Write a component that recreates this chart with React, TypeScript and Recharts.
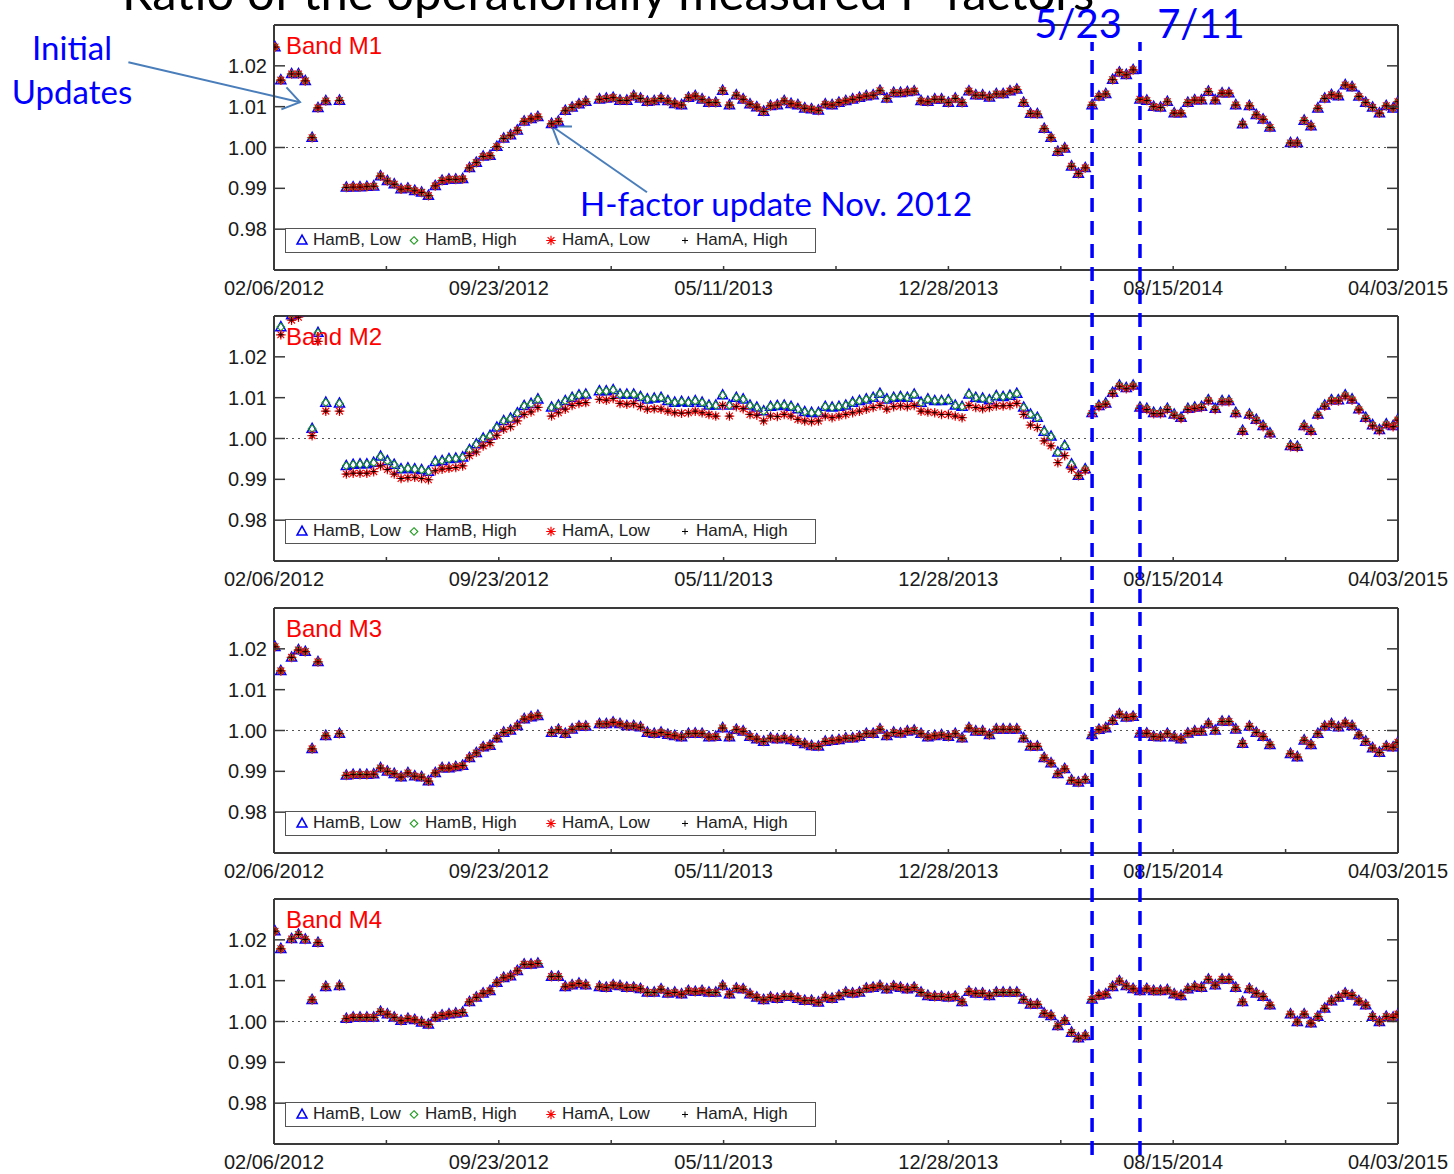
import React from 'react';
import { ScatterChart, Scatter, XAxis, YAxis, ReferenceLine } from 'recharts';

// measurement dates, in days after 02/06/2012
const days = [
  1, 7, 18, 25, 32, 39, 45, 53, 67,
  74, 81, 88, 95, 102, 109, 116, 123, 130, 137,
  144, 151, 158, 165, 172, 179, 186, 193, 200, 207,
  214, 221, 228, 235, 242, 249, 256, 263, 270, 277,
  284, 291, 298, 305, 312, 319, 326, 333, 340, 347,
  354, 361, 368, 375, 382, 389, 396, 403, 410, 417,
  424, 431, 438, 445, 452, 459, 466, 473, 480, 487,
  494, 501, 508, 515, 522, 529, 536, 543, 550, 557,
  564, 571, 578, 585, 592, 599, 606, 613, 620, 627,
  634, 641, 648, 655, 662, 669, 676, 683, 690, 697,
  704, 711, 718, 725, 732, 739, 746, 753, 760, 767,
  774, 781, 788, 795, 802, 809, 816, 823, 830, 837,
  844, 851, 858, 865, 872, 879, 886, 893, 900, 907,
  914, 921, 928, 935, 942, 949, 956, 963, 970, 977,
  984, 991, 998, 1005, 1012, 1019, 1026, 1033, 1040, 1047,
  1054, 1061, 1068, 1075, 1082, 1089, 1096, 1103, 1110, 1117,
  1124, 1131, 1138, 1145, 1150,
];

const m1 = [
  1.0246, 1.0165, 1.018, 1.018, 1.0163, 1.0024, 1.0097, 1.0114, 1.0115,
  0.9902, 0.9903, 0.9903, 0.9904, 0.9905, 0.993, 0.9918, 0.991, 0.9898, 0.99,
  0.9894, 0.989, 0.9882, 0.9906, 0.9919, 0.9922, 0.9922, 0.9923, 0.995, 0.9963,
  0.9978, 0.998, 1.0002, 1.0022, 1.003, 1.0042, 1.0064, 1.007, 1.0075, null,
  1.0058, 1.0064, 1.009, 1.0098, 1.0106, 1.0112, null, 1.0118, 1.012, 1.0122,
  1.0115, 1.0115, 1.0126, 1.012, 1.0112, 1.0114, 1.012, 1.0114, 1.0107, 1.0104,
  1.0122, 1.0126, 1.0118, 1.011, 1.011, 1.0139, 1.0104, 1.0128, 1.0118, 1.0106,
  1.0099, 1.0088, 1.0102, 1.0104, 1.0114, 1.0107, 1.0104, 1.0096, 1.0094, 1.0091,
  1.0106, 1.0104, 1.011, 1.0114, 1.0118, 1.0122, 1.0126, 1.0128, 1.0139, 1.012,
  1.0134, 1.0134, 1.0136, 1.0138, 1.0114, 1.0112, 1.0118, 1.0118, 1.011, 1.012,
  1.011, 1.0138, 1.0128, 1.0128, 1.0123, 1.0131, 1.0131, 1.0138, 1.0142, 1.011,
  1.0083, 1.0082, 1.0046, 1.0024, 0.999, 0.9998, 0.9954, 0.9936, 0.995, 1.0104,
  1.0125, 1.0131, 1.0166, 1.0184, 1.0178, 1.019, 1.0118, 1.0115, 1.01, 1.0098,
  1.0112, 1.0084, 1.0084, 1.011, 1.0116, 1.0116, 1.0137, 1.0116, 1.0133, 1.0133,
  1.0104, 1.0057, 1.0102, 1.008, 1.0069, 1.0049, null, null, 1.0011, 1.0011,
  1.0066, 1.0052, 1.0096, 1.012, 1.0129, 1.0126, 1.0153, 1.0148, 1.0125, 1.011,
  1.0098, 1.0084, 1.0102, 1.0096, 1.0112,
];

const m2HamB = [
  null, 1.0273, 1.0302, 1.031, null, 1.0024, 1.0259, 1.0088, 1.0086,
  0.9933, 0.9936, 0.9937, 0.9937, 0.9941, 0.9956, 0.9945, 0.9936, 0.9925, 0.9927,
  0.9925, 0.9923, 0.9919, 0.9943, 0.9945, 0.995, 0.9951, 0.9954, 0.9972, 0.9986,
  1.0, 1.0007, 1.0027, 1.0043, 1.0049, 1.0062, 1.008, 1.0085, 1.0096, null,
  1.0076, 1.0081, 1.0092, 1.01, 1.0106, 1.0108, null, 1.0116, 1.0116, 1.0119,
  1.0108, 1.0108, 1.0108, 1.0102, 1.0096, 1.0098, 1.01, 1.0092, 1.0088, 1.009,
  1.0088, 1.0092, 1.0088, 1.0081, 1.0081, 1.0106, 1.0081, 1.01, 1.0096, 1.0081,
  1.0076, 1.0067, 1.0078, 1.008, 1.0081, 1.0078, 1.0072, 1.0065, 1.0063, 1.0063,
  1.0078, 1.0076, 1.0078, 1.0081, 1.0088, 1.0092, 1.0096, 1.01, 1.011, 1.0096,
  1.01, 1.0102, 1.01, 1.0108, 1.0088, 1.0096, 1.0092, 1.0092, 1.0094, 1.0081,
  1.0078, 1.0108, 1.01, 1.0098, 1.0094, 1.0104, 1.0102, 1.0105, 1.011, 1.0076,
  1.0059, 1.0051, 1.0017, 1.0005, 0.9966, 0.9982, 0.9937, 0.9909, 0.9925, 1.0063,
  1.008, 1.0086, 1.0112, 1.013, 1.0124, 1.013, 1.0076, 1.0073, 1.0063, 1.0063,
  1.0073, 1.0059, 1.0051, 1.0073, 1.0076, 1.0078, 1.0094, 1.0073, 1.0092, 1.0092,
  1.0063, 1.0019, 1.0059, 1.0046, 1.0031, 1.0013, null, null, 0.9982, 0.998,
  1.0031, 1.0019, 1.0059, 1.0081, 1.0094, 1.0094, 1.0106, 1.0096, 1.0072, 1.0051,
  1.0033, 1.0021, 1.0035, 1.0031, 1.0047,
];

const m2HamA = [
  null, 1.0254, 1.029, 1.0297, null, 1.0007, 1.0238, 1.0067, 1.0067,
  0.9913, 0.9915, 0.9915, 0.9915, 0.9919, 0.9933, 0.9924, 0.9913, 0.9902, 0.9904,
  0.9905, 0.9902, 0.9899, 0.9921, 0.9925, 0.9927, 0.9929, 0.9933, 0.9958, 0.9967,
  0.9982, 0.999, 1.0008, 1.0023, 1.0029, 1.0043, 1.0059, 1.0065, 1.0076, null,
  1.0055, 1.0063, 1.0072, 1.0081, 1.0086, 1.0088, null, 1.0096, 1.0094, 1.0098,
  1.0086, 1.0084, 1.0086, 1.0078, 1.0072, 1.0073, 1.0072, 1.0067, 1.0063, 1.0062,
  1.0063, 1.0067, 1.0063, 1.0059, 1.0055, 1.0081, 1.0055, 1.0078, 1.0073, 1.0059,
  1.0057, 1.0043, 1.0055, 1.0054, 1.0059, 1.0055, 1.0047, 1.0043, 1.0041, 1.0043,
  1.0055, 1.0051, 1.0055, 1.0059, 1.0063, 1.0067, 1.0072, 1.0076, 1.0081, 1.0072,
  1.0078, 1.008, 1.0078, 1.0081, 1.0067, 1.0065, 1.0063, 1.0059, 1.0059, 1.0055,
  1.0051, 1.0081, 1.0076, 1.0073, 1.0076, 1.008, 1.008, 1.0081, 1.0086, 1.0059,
  1.0033, 1.0027, 0.9994, 0.9982, 0.9941, 0.9958, 0.9925, 0.9909, 0.9922, 1.0061,
  1.0078, 1.0084, 1.011, 1.0128, 1.0122, 1.0128, 1.0074, 1.0071, 1.0061, 1.0061,
  1.0071, 1.0057, 1.0049, 1.0071, 1.0074, 1.0076, 1.0092, 1.0071, 1.009, 1.009,
  1.0061, 1.0017, 1.0057, 1.0044, 1.0029, 1.0011, null, null, 0.998, 0.9978,
  1.0029, 1.0017, 1.0057, 1.0079, 1.0092, 1.0092, 1.0104, 1.0094, 1.007, 1.0049,
  1.0031, 1.0019, 1.0033, 1.0029, 1.0045,
];

const m3 = [
  1.0205, 1.0146, 1.0179, 1.0197, 1.0193, 0.9955, 1.0168, 0.9987, 0.9992,
  0.989, 0.9892, 0.9892, 0.9892, 0.9893, 0.9908, 0.99, 0.9894, 0.9886, 0.9896,
  0.9888, 0.9886, 0.9876, 0.9896, 0.9908, 0.9908, 0.9911, 0.9914, 0.9933, 0.9945,
  0.9959, 0.9963, 0.9981, 0.9995, 1.0, 1.0011, 1.0028, 1.0033, 1.0036, null,
  0.9995, 1.0002, 0.9992, 1.0003, 1.001, 1.001, null, 1.0016, 1.0016, 1.002,
  1.0016, 1.0011, 1.0011, 1.0008, 0.9995, 0.9992, 0.9995, 0.999, 0.9987, 0.9984,
  0.9992, 0.9993, 0.9992, 0.9984, 0.9985, 1.0006, 0.9984, 1.0002, 0.9998, 0.9985,
  0.9979, 0.9973, 0.9981, 0.9979, 0.9981, 0.9977, 0.9973, 0.9967, 0.9962, 0.9961,
  0.9973, 0.9975, 0.9977, 0.9981, 0.9981, 0.9985, 0.9992, 0.9992, 1.0003, 0.9987,
  0.9995, 0.9993, 0.9998, 1.0, 0.9992, 0.9984, 0.9987, 0.9989, 0.9985, 0.9992,
  0.9981, 1.0006, 0.9998, 0.9998, 0.9989, 1.0003, 1.0003, 1.0003, 1.0003, 0.9981,
  0.9961, 0.9961, 0.9933, 0.992, 0.9894, 0.9906, 0.9878, 0.9873, 0.988, 0.9989,
  1.0002, 1.0006, 1.0024, 1.004, 1.0032, 1.0034, 0.9993, 0.9993, 0.9985, 0.9984,
  0.9992, 0.9984, 0.9979, 0.9993, 0.9998, 0.9998, 1.0016, 1.0, 1.0022, 1.0022,
  1.0003, 0.9968, 1.001, 0.9995, 0.9985, 0.9965, null, null, 0.9943, 0.9935,
  0.9976, 0.9965, 0.9992, 1.001, 1.0016, 1.0008, 1.0018, 1.0011, 0.9989, 0.9973,
  0.9957, 0.9946, 0.9961, 0.9959, 0.9971,
];

const m4 = [
  1.0221, 1.0178, 1.0202, 1.0213, 1.0201, 1.0053, 1.0193, 1.0085, 1.0087,
  1.0007, 1.001, 1.001, 1.001, 1.001, 1.0024, 1.0018, 1.001, 1.0002, 1.0007,
  1.0004, 0.9998, 0.9993, 1.001, 1.0015, 1.0018, 1.002, 1.0022, 1.0048, 1.0059,
  1.0069, 1.0075, 1.0095, 1.0107, 1.0111, 1.0124, 1.014, 1.014, 1.0142, null,
  1.011, 1.011, 1.0085, 1.0089, 1.0093, 1.0089, null, 1.0085, 1.0083, 1.0089,
  1.0087, 1.0083, 1.0083, 1.008, 1.0071, 1.0071, 1.0079, 1.0069, 1.0071, 1.0067,
  1.0075, 1.0073, 1.0075, 1.0071, 1.0071, 1.0087, 1.0067, 1.0081, 1.0079, 1.0067,
  1.0059, 1.0053, 1.0059, 1.0056, 1.0061, 1.0061, 1.0056, 1.0051, 1.0051, 1.0047,
  1.0059, 1.0056, 1.0063, 1.0071, 1.0069, 1.0071, 1.0081, 1.0083, 1.0087, 1.0079,
  1.0086, 1.0083, 1.0079, 1.0083, 1.0071, 1.0063, 1.0061, 1.0061, 1.0059, 1.0061,
  1.0048, 1.0073, 1.0069, 1.0069, 1.0063, 1.0071, 1.0071, 1.0071, 1.0071, 1.0054,
  1.0042, 1.0042, 1.002, 1.0014, 0.9989, 1.0002, 0.9973, 0.9959, 0.9965, 1.0054,
  1.0064, 1.0067, 1.0085, 1.0099, 1.0087, 1.008, 1.0075, 1.008, 1.0075, 1.0075,
  1.0077, 1.0067, 1.0063, 1.0079, 1.0085, 1.0083, 1.0103, 1.0089, 1.0103, 1.0103,
  1.0083, 1.0048, 1.008, 1.0069, 1.0061, 1.004, null, null, 1.0018, 0.9999,
  1.0018, 0.9996, 1.0012, 1.0032, 1.005, 1.0059, 1.0069, 1.0064, 1.005, 1.004,
  1.0012, 0.9999, 1.0012, 1.001, 1.0018,
];

const bandNames = ['Band M1', 'Band M2', 'Band M3', 'Band M4'];
const hamB = [m1, m2HamB, m3, m4];
const hamA = [m1, m2HamA, m3, m4];
const seriesNames = ['HamB, Low', 'HamB, High', 'HamA, Low', 'HamA, High'];

const xTicks = [0, 115, 230, 345, 460, 575, 690, 805, 920, 1035, 1150];
const dateTicks = [0, 230, 460, 690, 920, 1150];
const dateLabels = ['02/06/2012', '09/23/2012', '05/11/2013', '12/28/2013', '08/15/2014', '04/03/2015'];
const yTicks = [0.98, 0.99, 1.0, 1.01, 1.02];

// dates of the two update events (5/23/2014, 7/11/2014)
const updateDays = [837, 886];
const updateLabels = ['5/23', '7/11'];

// arrow annotations on the first panel: [tail, head] in (day, ratio)
const initialArrow = [{ x: -149, y: 1.0209 }, { x: 26.6, y: 1.0111 }];
const hFactorArrow = [{ x: 381.6, y: 0.98904 }, { x: 284.4, y: 1.0052 }];

const W = 1454;
const H = 1174;
const PANEL_H = 300;
const plotTops = [25, 316, 608, 899];
const AXIS_FONT = '"Liberation Sans", Arial, Helvetica, sans-serif';
const NOTE_FONT = 'Lato, "Open Sans", sans-serif';
const FRAME = { stroke: '#3a3a3a', strokeWidth: 2 };

const toPoints = (vals: (number | null)[]) =>
  days.map((d, i) => ({ x: d, y: vals[i] })).filter((p) => p.y !== null);

const Tri = ({ cx, cy }: any) => (
  <polygon
    points={`${cx},${cy - 5.4} ${cx - 5},${cy + 3.6} ${cx + 5},${cy + 3.6}`}
    fill="none"
    stroke="#0000ff"
    strokeWidth={1.5}
  />
);
const Dia = ({ cx, cy }: any) => (
  <polygon
    points={`${cx},${cy - 3.8} ${cx + 3.8},${cy} ${cx},${cy + 3.8} ${cx - 3.8},${cy}`}
    fill="none"
    stroke="#1f9a1f"
    strokeWidth={1.1}
  />
);
const Star = ({ cx, cy }: any) => (
  <path
    d={`M${cx - 4.8},${cy}h9.6M${cx},${cy - 4.8}v9.6M${cx - 3.4},${cy - 3.4}l6.8,6.8M${cx - 3.4},${cy + 3.4}l6.8,-6.8`}
    stroke="#ff0000"
    strokeWidth={1.2}
  />
);
const Plus = ({ cx, cy }: any) => (
  <path d={`M${cx - 3},${cy}h6M${cx},${cy - 3}v6`} stroke="#000" strokeWidth={1} />
);
const markers = [Tri, Dia, Star, Plus];

const BottomTick = ({ x, y, payload }: any) => {
  const i = dateTicks.indexOf(payload.value);
  return (
    <g>
      <line x1={x} y1={y} x2={x} y2={y - 4} stroke="#3a3a3a" strokeWidth={1.5} />
      {i >= 0 && (
        <text x={x} y={y + 25} textAnchor="middle" fontFamily={AXIS_FONT} fontSize={20} fill="#1a1a1a">
          {dateLabels[i]}
        </text>
      )}
    </g>
  );
};
const TopTick = ({ x, y }: any) => <line x1={x} y1={y} x2={x} y2={y + 4} stroke="#3a3a3a" strokeWidth={1.5} />;
const LeftTick = ({ x, y, payload }: any) => (
  <g>
    <line x1={x} y1={y} x2={x + 11} y2={y} stroke="#3a3a3a" strokeWidth={1.5} />
    <text x={x - 7} y={y + 7} textAnchor="end" fontFamily={AXIS_FONT} fontSize={20} fill="#1a1a1a">
      {payload.value.toFixed(2)}
    </text>
  </g>
);
const RightTick = ({ x, y }: any) => <line x1={x} y1={y} x2={x - 11} y2={y} stroke="#3a3a3a" strokeWidth={1.5} />;

// open-headed arrow used for the annotations
const Arrow = ({ x1, y1, x2, y2 }: any) => {
  const ang = Math.atan2(y2 - y1, x2 - x1);
  const len = 20;
  const a = 0.6;
  const p1 = `${x2 - len * Math.cos(ang - a)},${y2 - len * Math.sin(ang - a)}`;
  const p2 = `${x2 - len * Math.cos(ang + a)},${y2 - len * Math.sin(ang + a)}`;
  return (
    <g stroke="#4a7ebb" strokeWidth={2} fill="none">
      <line x1={x1} y1={y1} x2={x2} y2={y2} />
      <polyline points={`${p1} ${x2},${y2} ${p2}`} />
    </g>
  );
};

const legendX = [10, 122, 259, 393];

function LegendBox({ plotTop }: { plotTop: number }) {
  return (
    <div
      style={{
        position: 'absolute',
        left: 285,
        top: plotTop + 203,
        width: 531,
        height: 25,
        boxSizing: 'border-box',
        border: '1.5px solid #555',
        background: '#fff',
        fontFamily: AXIS_FONT,
        fontSize: 17,
        color: '#222',
      }}
    >
      {seriesNames.map((name, i) => {
        const M = markers[i];
        return (
          <div
            key={name}
            style={{ position: 'absolute', left: legendX[i], top: 0, height: 22, display: 'flex', alignItems: 'center' }}
          >
            <svg width={12} height={12} style={{ overflow: 'visible' }}>
              <M cx={6} cy={6.5} />
            </svg>
            <span style={{ marginLeft: 5, whiteSpace: 'nowrap' }}>{name}</span>
          </div>
        );
      })}
    </div>
  );
}

function Panel({ index }: { index: number }) {
  const plotTop = plotTops[index];
  const b = toPoints(hamB[index]);
  const a = toPoints(hamA[index]);
  const seriesData = [b, b, a, a];
  return (
    <>
      <div style={{ position: 'absolute', left: 0, top: plotTop - 25, width: W, height: PANEL_H }}>
        <ScatterChart width={W} height={PANEL_H} margin={{ top: 15, right: 26, bottom: 0, left: 214 }}>
          <XAxis
            xAxisId="b"
            type="number"
            dataKey="x"
            domain={[0, 1150]}
            allowDataOverflow
            ticks={xTicks}
            interval={0}
            height={30}
            tickSize={0}
            tickMargin={0}
            axisLine={FRAME}
            tick={BottomTick}
          />
          <XAxis
            xAxisId="t"
            orientation="top"
            type="number"
            domain={[0, 1150]}
            allowDataOverflow
            ticks={xTicks}
            interval={0}
            height={10}
            tickSize={0}
            tickMargin={0}
            axisLine={FRAME}
            tick={TopTick}
          />
          <YAxis
            yAxisId="l"
            type="number"
            dataKey="y"
            domain={[0.97, 1.03]}
            allowDataOverflow
            ticks={yTicks}
            interval={0}
            width={60}
            tickSize={0}
            tickMargin={0}
            axisLine={FRAME}
            tick={LeftTick}
          />
          <YAxis
            yAxisId="r"
            orientation="right"
            type="number"
            domain={[0.97, 1.03]}
            allowDataOverflow
            ticks={yTicks}
            interval={0}
            width={30}
            tickSize={0}
            tickMargin={0}
            axisLine={FRAME}
            tick={RightTick}
          />
          <ReferenceLine xAxisId="b" yAxisId="l" y={1} stroke="#555" strokeWidth={1} strokeDasharray="2 4" />
          {seriesNames.map((name, i) => {
            const M = markers[i];
            return (
              <Scatter
                key={name}
                name={name}
                xAxisId="b"
                yAxisId="l"
                data={seriesData[i]}
                shape={(p: any) => <M cx={p.cx} cy={p.cy} />}
                isAnimationActive={false}
              />
            );
          })}
          {index === 0 && (
            <ReferenceLine
              xAxisId="b"
              yAxisId="l"
              segment={initialArrow}
              ifOverflow="visible"
              shape={(p: any) => <Arrow {...p} />}
            />
          )}
          {index === 0 && (
            <ReferenceLine
              xAxisId="b"
              yAxisId="l"
              segment={hFactorArrow}
              ifOverflow="visible"
              shape={(p: any) => <Arrow {...p} />}
            />
          )}
        </ScatterChart>
      </div>
      <LegendBox plotTop={plotTop} />
    </>
  );
}

// the two update dates, drawn as dashed lines through all four panels
function UpdateLines() {
  const shift = [-14, 61];
  const events = updateDays.map((d) => ({ x: d, y: 0.5 }));
  return (
    <div style={{ position: 'absolute', left: 0, top: 0, width: W, height: H, pointerEvents: 'none' }}>
      <ScatterChart width={W} height={H} margin={{ top: 42, right: 56, bottom: 19, left: 274 }}>
        <XAxis type="number" dataKey="x" domain={[0, 1150]} allowDataOverflow hide />
        <YAxis type="number" dataKey="y" domain={[0, 1]} allowDataOverflow hide />
        <Scatter data={events} shape={() => <g />} isAnimationActive={false} />
        {updateDays.map((d, i) => (
          <ReferenceLine
            key={d}
            x={d}
            stroke="#0000ff"
            strokeWidth={3.5}
            strokeDasharray="14 9"
            label={{
              content: (p: any) => (
                <text
                  x={p.viewBox.x + shift[i]}
                  y={p.viewBox.y - 4}
                  textAnchor="middle"
                  fontFamily={NOTE_FONT}
                  fontSize={40}
                  fill="#0000ff"
                >
                  {updateLabels[i]}
                </text>
              ),
            }}
          />
        ))}
      </ScatterChart>
    </div>
  );
}

export default function App() {
  return (
    <div style={{ position: 'absolute', left: 0, top: 0, width: W, height: H, overflow: 'hidden', background: '#fff' }}>
      <svg width={W} height={H} style={{ position: 'absolute', left: 0, top: 0 }}>
        <text x={122} y={10} fontFamily={NOTE_FONT} fontSize={49} fill="#000">
          Ratio of the operationally measured F-factors
        </text>
        <text x={72} y={60} textAnchor="middle" fontFamily={NOTE_FONT} fontSize={33} fill="#0000ff">
          Initial
        </text>
        <text x={72} y={104} textAnchor="middle" fontFamily={NOTE_FONT} fontSize={33} fill="#0000ff">
          Updates
        </text>
        <text x={580} y={216} fontFamily={NOTE_FONT} fontSize={33} fill="#0000ff">
          H-factor update Nov. 2012
        </text>
      </svg>
      {bandNames.map((_, i) => (
        <Panel key={i} index={i} />
      ))}
      <svg width={W} height={H} style={{ position: 'absolute', left: 0, top: 0, pointerEvents: 'none' }}>
        {bandNames.map((name, i) => (
          <text key={name} x={286} y={plotTops[i] + 29} fontFamily={AXIS_FONT} fontSize={24} fill="#ff0000">
            {name}
          </text>
        ))}
      </svg>
      <UpdateLines />
    </div>
  );
}
